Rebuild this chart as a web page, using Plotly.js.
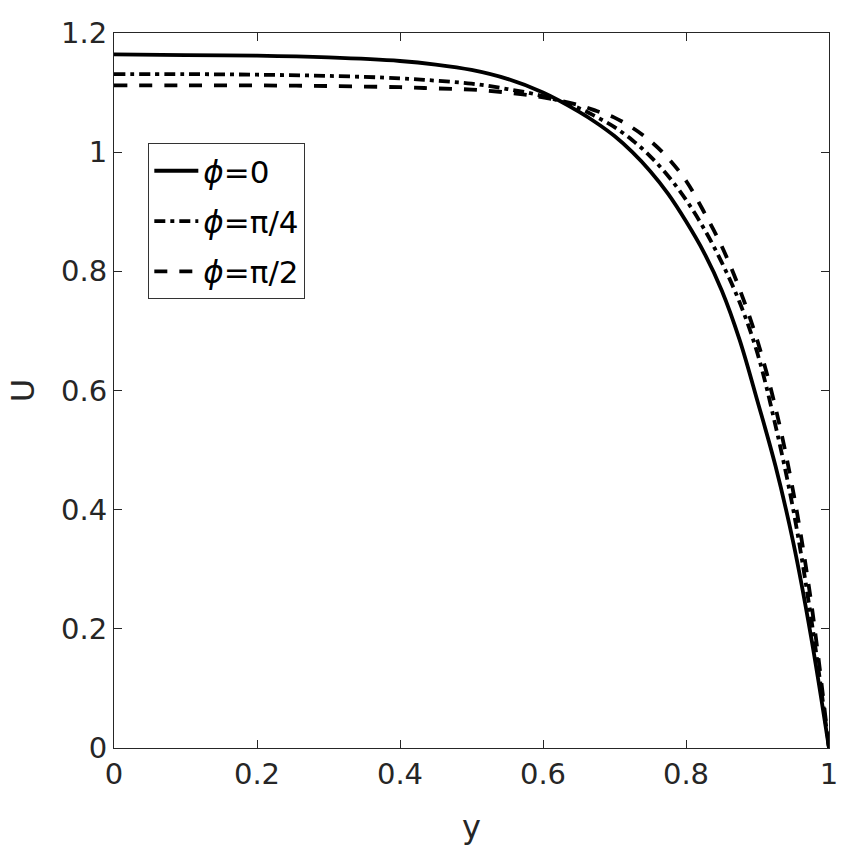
<!DOCTYPE html>
<html>
<head>
<meta charset="utf-8">
<script src="https://cdn.plot.ly/plotly-3.0.1.min.js"></script>
<style>html,body{margin:0;padding:0;background:#fff;}</style>
</head>
<body>
<div id="chart" style="width:865px;height:855px;"></div>
<script>
// Data
var yPos = [0, 0.1, 0.2, 0.3, 0.4, 0.45, 0.5, 0.55, 0.6, 0.65, 0.675, 0.7, 0.725, 0.75, 0.775, 0.8, 0.825, 0.85, 0.875, 0.9, 0.925, 0.95, 0.975, 1.0];
var uPhi0 = [1.164, 1.163, 1.162, 1.159, 1.153, 1.147, 1.138, 1.123, 1.100, 1.068, 1.049, 1.027, 1.000, 0.968, 0.930, 0.884, 0.832, 0.768, 0.685, 0.582, 0.474, 0.345, 0.186, 0];
var uPhiQuarter = [1.131, 1.131, 1.130, 1.128, 1.124, 1.120, 1.115, 1.106, 1.094, 1.074, 1.059, 1.042, 1.020, 0.993, 0.960, 0.920, 0.872, 0.815, 0.748, 0.662, 0.542, 0.400, 0.218, 0];
var uPhiHalf = [1.112, 1.112, 1.112, 1.111, 1.109, 1.107, 1.105, 1.100, 1.092, 1.079, 1.069, 1.058, 1.041, 1.019, 0.990, 0.952, 0.900, 0.842, 0.770, 0.683, 0.572, 0.430, 0.245, 0];
var seriesNames = ['<i>ϕ</i>=0', '<i>ϕ</i>=π/4', '<i>ϕ</i>=π/2'];
var xTicks = [0, 0.2, 0.4, 0.6, 0.8, 1];
var xTickText = ['0', '0.2', '0.4', '0.6', '0.8', '1'];
var yTicks = [0, 0.2, 0.4, 0.6, 0.8, 1, 1.2];
var yTickText = ['0', '0.2', '0.4', '0.6', '0.8', '1', '1.2'];

var axisColor = '#262626';
var fontFamily = 'DejaVu Sans, Liberation Sans, sans-serif';

function trace(vals, name, dash, grp) {
  return {
    x: yPos, y: vals, name: name, type: 'scatter', mode: 'lines',
    legendgroup: grp,
    line: {color: '#000', width: 3.8, dash: dash, shape: 'spline', smoothing: 1},
    hoverinfo: 'skip'
  };
}

var data = [
  trace(uPhi0, seriesNames[0], 'solid', 'a'),
  trace(uPhiQuarter, seriesNames[1], '11px,5px,4px,5px', 'b'),
  trace(uPhiHalf, seriesNames[2], '13px,12px', 'c')
];

var axisCommon = {
  showline: true, linecolor: axisColor, linewidth: 1,
  mirror: 'ticks', ticks: 'inside', ticklen: 8, tickwidth: 1, tickcolor: axisColor,
  showgrid: false, zeroline: false,
  tickfont: {family: fontFamily, size: 29, color: axisColor}
};

var layout = {
  width: 865, height: 855,
  margin: {l: 114, r: 36, t: 33, b: 107},
  paper_bgcolor: '#fff', plot_bgcolor: '#fff',
  showlegend: true,
  xaxis: Object.assign({}, axisCommon, {
    range: [0, 1], tickvals: xTicks, ticktext: xTickText,
    title: {text: 'y', font: {family: fontFamily, size: 32, color: axisColor}, standoff: 25}
  }),
  yaxis: Object.assign({}, axisCommon, {
    range: [0, 1.2], tickvals: yTicks, ticktext: yTickText,
    title: {text: 'U', font: {family: fontFamily, size: 32, color: axisColor}, standoff: 16}
  }),
  legend: {
    x: 0.048, y: 0.846, xanchor: 'left', yanchor: 'top',
    bgcolor: '#fff', bordercolor: '#333', borderwidth: 1,
    font: {family: fontFamily, size: 31, color: '#000'},
    traceorder: 'grouped', tracegroupgap: 7,
    itemwidth: 44
  }
};

Plotly.newPlot('chart', data, layout, {staticPlot: true, displayModeBar: false});
</script>
</body>
</html>
